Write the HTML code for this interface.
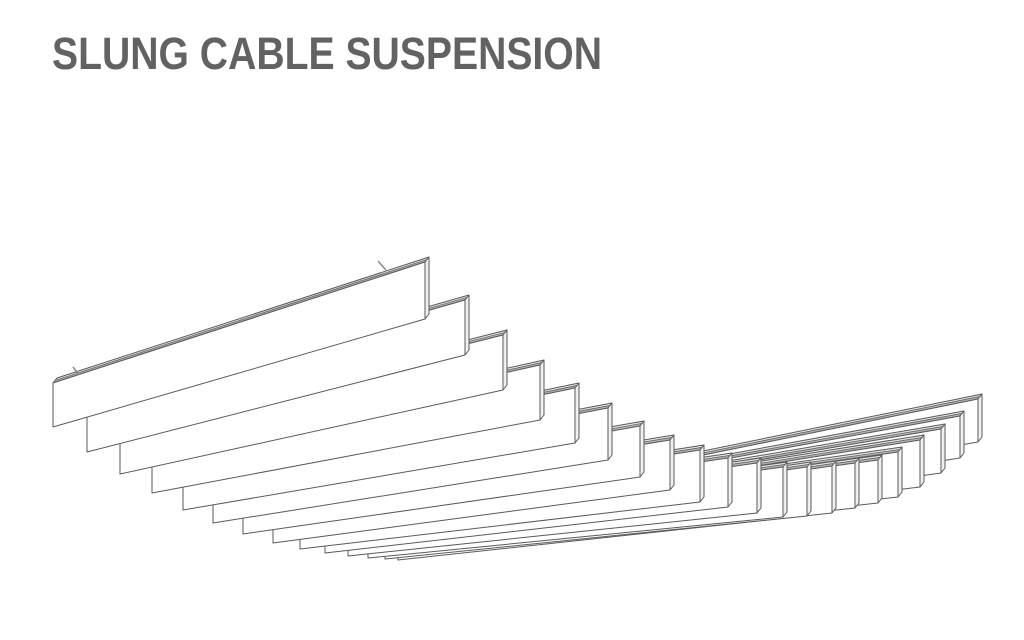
<!DOCTYPE html>
<html><head><meta charset="utf-8"><style>
html,body{margin:0;padding:0;background:#fff;width:1024px;height:640px;overflow:hidden}
svg{display:block}
</style></head><body>
<svg id="s" width="1024" height="640" viewBox="0 0 1024 640" xmlns="http://www.w3.org/2000/svg">
<text x="52" y="69" font-family="Liberation Sans, sans-serif" font-weight="bold" font-size="45" fill="#616264" textLength="550" lengthAdjust="spacingAndGlyphs">SLUNG CABLE SUSPENSION</text>
<g id="g" stroke="#5a5a5a" stroke-width="1" stroke-linejoin="round"></g>
<line x1="378" y1="261" x2="386" y2="270" stroke="#888" stroke-width="1.5"/>
<line x1="73" y1="367" x2="79" y2="375" stroke="#888" stroke-width="1.5"/>
</svg>
<script>
var B=[
[53,427,44,425,262,319],
[87,452,44,465,300,355],
[120,474,43,503,335,390],
[152,493,42,540,365,420],
[183,510,41,575,388,443],
[213,523,40,608,408,460],
[243,534,39,640,426,477],
[273,543,38,670,440,490],
[300,549,37,700,450,502],
[325,553,36,728,458,507],
[348,556,35,757,463,513],
[368,558,34,783,467,517],
[385,559,33,807,467,516],
[398,560,32,832,466,513],
[420,555,32,855,463,508],
[450,550,32,878,460,503],
[480,544,32,898,452,497],
[520,536,32,920,440,487],
[560,526,32,941,429,473],
[600,514,32,960,416,458],
[640,500,32,978,399,442]
];
var g=document.getElementById('g'),ns='http://www.w3.org/2000/svg';
function poly(pts,fill,sw){var p=document.createElementNS(ns,'polygon');p.setAttribute('points',pts.map(function(a){return a[0].toFixed(1)+','+a[1].toFixed(1)}).join(' '));p.setAttribute('fill',fill);if(sw)p.setAttribute('stroke-width',sw);g.appendChild(p);}
function line(a,b,c,w){var l=document.createElementNS(ns,'line');l.setAttribute('x1',a[0]);l.setAttribute('y1',a[1]);l.setAttribute('x2',b[0]);l.setAttribute('y2',b[1]);l.setAttribute('stroke',c);l.setAttribute('stroke-width',w);g.appendChild(l);}
for(var i=B.length-1;i>=0;i--){
 var b=B[i],lx=b[0],lb=b[1],lt=lb-b[2],rx=b[3],rt=b[4],rb=b[5];
 var d=4,e=-5;
 poly([[lx,lt],[rx,rt],[rx+d,rt+e],[lx+d,lt+e]],'#e4e4e4');
 line([lx+d*0.5,lt+e*0.5],[rx+d*0.5,rt+e*0.5],'#666',0.9);
 line([lx+d*0.25,lt+e*0.25],[rx+d*0.25,rt+e*0.25],'#999',0.6);
 poly([[rx,rt],[rx+d,rt+e],[rx+d,rb+e],[rx,rb]],'#f0f0f0');
 poly([[lx,lb],[lx,lt],[rx,rt],[rx,rb]],'#fff');
}
</script>
</body></html>
